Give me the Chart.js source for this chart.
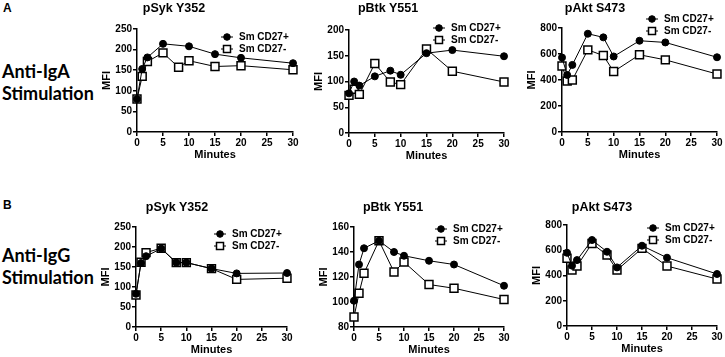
<!DOCTYPE html>
<html>
<head>
<meta charset="utf-8">
<script src="https://cdn.jsdelivr.net/npm/chart.js@4.4.0/dist/chart.umd.min.js"></script>
<style>
  html, body { margin: 0; padding: 0; background: #fff; }
  #page { position: relative; width: 725px; height: 357px; overflow: hidden; }
  .panel { position: absolute; }
  .ttl { position: absolute; font: bold 12.5px "Liberation Sans", Arial, sans-serif; color: #000;
         transform: translate(-50%, -50%); white-space: nowrap; }
  .letter { position: absolute; font: bold 12px "Liberation Sans", Arial, sans-serif; color: #000; }
  .stim { position: absolute; font: bold 18px Lato, "Open Sans", sans-serif; color: #000; line-height: 22px; }
</style>
</head>
<body>
<div id="page">
  <div class="letter" style="left:3px; top:1px;">A</div>
  <div class="letter" style="left:3px; top:198px;">B</div>
  <div class="stim" style="left:2px; top:60px;">Anti-IgA<br>Stimulation</div>
  <div class="stim" style="left:2px; top:244px;">Anti-IgG<br>Stimulation</div>
</div>
<script>
// time points (minutes)
const minutes = [0, 1, 2, 5, 8, 10, 15, 20, 30];
const seriesNames = ["Sm CD27+", "Sm CD27-"];
const panelTitles = ["pSyk Y352", "pBtk Y551", "pAkt S473", "pSyk Y352", "pBtk Y551", "pAkt S473"];

// A: anti-IgA stimulation
const igaSykPos = [80, 153, 181, 214, null, 208, 189, 180, 167];
const igaSykNeg = [80, 135, 171, 192, 157, 173, 159, 161, 151];
const igaBtkPos = [77, 100, 92, 110, 121, 113, 155, 161, 149];
const igaBtkNeg = [73, 85, 75, 135, 99, 94, 163, 120, 99];
const igaAktPos = [573, 439, 516, 756, 728, 581, 702, 689, 575];
const igaAktNeg = [508, 392, 400, 632, 588, 465, 594, 555, 446];

// B: anti-IgG stimulation
const iggSykPos = [83, 160, 177, 196, 161, 161, 146, 134, 135];
const iggSykNeg = [80, 162, 186, 197, 161, 161, 146, 119, 122];
const iggBtkPos = [101, 130, 143, 149, 140, 137, 133, 130, 113];
const iggBtkNeg = [88, 107, 123, 149, 124, 132, 114, 111, 102];
const iggAktPos = [580, 478, 522, 681, 588, 464, 636, 541, 412];
const iggAktNeg = [536, 443, 475, 654, 562, 443, 615, 475, 372];

// y axis ranges and steps
const yMins = [0, 0, 0, 0, 80, 0];
const yMaxs = [250, 200, 800, 250, 160, 800];
const ySteps = [50, 50, 200, 50, 20, 200];

const posSeries = [igaSykPos, igaBtkPos, igaAktPos, iggSykPos, iggBtkPos, iggAktPos];
const negSeries = [igaSykNeg, igaBtkNeg, igaAktNeg, iggSykNeg, iggBtkNeg, iggAktNeg];

// layout: plot area boxes, title centres, legend offsets
const plotBoxes = [
  { L: 137, R: 293, T: 29, B: 132 },
  { L: 349, R: 504, T: 30, B: 133 },
  { L: 562, R: 717, T: 28, B: 132 },
  { L: 136, R: 287, T: 227, B: 327 },
  { L: 354, R: 504, T: 227, B: 327 },
  { L: 567, R: 717, T: 225, B: 326 }
];
const titlePos = [[174, 8], [388, 8], [595, 8], [177, 207], [393, 207], [602, 207]];
const legendPos = [[90, 8], [90, -2], [90, -9], [84, 7], [87, 2], [86, 3]];

const FONT = "'Liberation Sans', Arial, sans-serif";
const padY = 42, padTop = 20, padRight = 12, padX = 36;

// small legend drawn inside the plot: line segment with the marker on it
const innerLegend = {
  id: "innerLegend",
  afterDraw(chart, args, opts) {
    const ctx = chart.ctx;
    const area = chart.chartArea;
    chart.data.datasets.forEach((ds, i) => {
      const x = area.left + opts.dx;
      const y = area.top + opts.dy + i * opts.gap;
      ctx.save();
      ctx.strokeStyle = "#000";
      ctx.lineWidth = 1;
      ctx.beginPath();
      ctx.moveTo(x - 6, y);
      ctx.lineTo(x + 6, y);
      ctx.stroke();
      ctx.lineWidth = ds.pointBorderWidth;
      ctx.fillStyle = ds.pointBackgroundColor;
      ctx.beginPath();
      if (ds.pointStyle === "rect") {
        ctx.rect(x - 3.5, y - 3.5, 7, 7);
      } else {
        ctx.arc(x, y, 3.3, 0, Math.PI * 2);
      }
      ctx.fill();
      ctx.stroke();
      ctx.fillStyle = "#000";
      ctx.font = "bold 10px " + FONT;
      ctx.textBaseline = "middle";
      ctx.fillText(ds.label, x + 12, y + 0.5);
      ctx.restore();
    });
  }
};

const page = document.getElementById("page");

plotBoxes.forEach((box, p) => {
  const w = box.R - box.L + padY + padRight;
  const h = box.B - box.T + padTop + padX;
  const canvas = document.createElement("canvas");
  canvas.className = "panel";
  canvas.width = w;
  canvas.height = h;
  canvas.style.left = (box.L - padY) + "px";
  canvas.style.top = (box.T - padTop) + "px";
  canvas.style.width = w + "px";
  canvas.style.height = h + "px";
  page.appendChild(canvas);

  const t = document.createElement("div");
  t.className = "ttl";
  t.style.left = titlePos[p][0] + "px";
  t.style.top = titlePos[p][1] + "px";
  t.textContent = panelTitles[p];
  page.appendChild(t);

  const toXY = arr => minutes.map((m, i) => ({ x: m, y: arr[i] }));

  new Chart(canvas.getContext("2d"), {
    type: "line",
    data: {
      datasets: [
        {
          label: seriesNames[0],
          data: toXY(posSeries[p]),
          borderColor: "#000",
          borderWidth: 1,
          pointStyle: "circle",
          pointRadius: 3.5,
          pointBackgroundColor: "#000",
          pointBorderColor: "#000",
          pointBorderWidth: 1,
          spanGaps: true,
          clip: false,
          fill: false,
          tension: 0
        },
        {
          label: seriesNames[1],
          data: toXY(negSeries[p]),
          borderColor: "#000",
          borderWidth: 1,
          pointStyle: "rect",
          pointRadius: 5.6,
          pointBackgroundColor: "#fff",
          pointBorderColor: "#000",
          pointBorderWidth: 1.5,
          spanGaps: true,
          clip: false,
          fill: false,
          tension: 0
        }
      ]
    },
    options: {
      responsive: false,
      animation: false,
      devicePixelRatio: 1,
      layout: { padding: { top: padTop, right: padRight, left: 0, bottom: 0 } },
      plugins: {
        legend: { display: false },
        tooltip: { enabled: false },
        innerLegend: { dx: legendPos[p][0], dy: legendPos[p][1], gap: 12 }
      },
      scales: {
        x: {
          type: "linear",
          min: 0,
          max: 30,
          afterFit: s => { s.height = padX; },
          ticks: { stepSize: 5, color: "#000", padding: 1, maxRotation: 0, font: { family: FONT, size: 10, weight: "bold" } },
          grid: { drawOnChartArea: false, drawTicks: true, tickLength: 4, color: "#000", lineWidth: 1.5 },
          border: { display: true, color: "#000", width: 1.5 },
          title: { display: true, text: "Minutes", color: "#000", padding: { top: 0, bottom: 6 }, font: { family: FONT, size: 11, weight: "bold" } }
        },
        y: {
          min: yMins[p],
          max: yMaxs[p],
          afterFit: s => { s.width = padY; },
          ticks: { stepSize: ySteps[p], color: "#000", padding: 1, font: { family: FONT, size: 10, weight: "bold" } },
          grid: { drawOnChartArea: false, drawTicks: true, tickLength: 4, color: "#000", lineWidth: 1.5 },
          border: { display: true, color: "#000", width: 1.5 },
          title: { display: true, text: "MFI", color: "#000", padding: { top: 5, bottom: 0 }, font: { family: FONT, size: 11, weight: "bold" } }
        }
      }
    },
    plugins: [innerLegend]
  });
});
</script>
</body>
</html>
